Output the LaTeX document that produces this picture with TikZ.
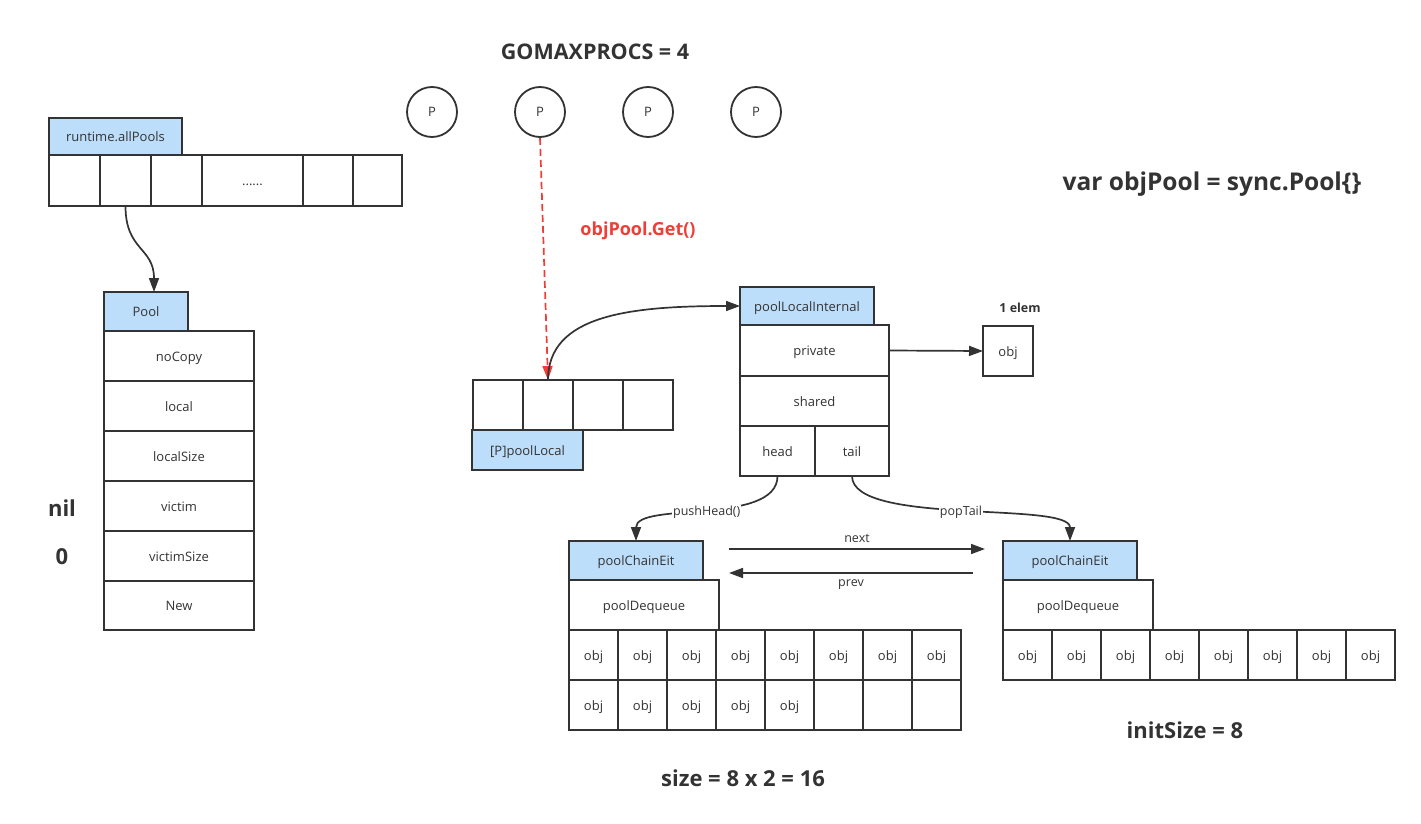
\documentclass[tikz,border=0pt]{standalone}
\usepackage{fontspec}
\setmainfont{Open Sans}
\usepackage{tikz}
\usetikzlibrary{arrows.meta}
\definecolor{ink}{HTML}{333333}
\definecolor{headblue}{RGB}{189,222,250}
\definecolor{getred}{RGB}{240,62,55}

\begin{document}
\begin{tikzpicture}[x=1pt,y=-1pt,
	box/.style={draw=ink, line width=1.8pt, inner sep=0pt, outer sep=0pt, text=ink, text height=12pt, text depth=2pt, font=\fontsize{13}{15}\selectfont},
	headbox/.style={box, fill=headblue, minimum height=38pt},
	fieldbox/.style={box, fill=white, minimum height=50pt},
	objbox/.style={fieldbox, minimum width=49pt},
	pnode/.style={circle, draw=ink, line width=1.8pt, minimum size=50pt, inner sep=0pt, text=ink, text height=12pt, text depth=2pt, font=\fontsize{13}{15}\selectfont},
	bigtext/.style={text=ink, font=\bfseries\fontsize{22}{26}\selectfont},
	smalltext/.style={text=ink, font=\fontsize{12.5}{14}\selectfont},
	link/.style={draw=ink, line width=1.7pt, -{Triangle[length=14pt,width=10pt]}},
	]
	\useasboundingbox (0,0) rectangle (1421,824);
	%Nodes
	\node[bigtext, font=\bfseries\fontsize{21.5}{26}\selectfont] (title) at (595,52) {GOMAXPROCS = 4};
	\node[bigtext, font=\bfseries\fontsize{24.5}{28}\selectfont] (decl) at (1212,184) {var objPool = sync.Pool\{\}};
	\node[pnode]                    (p1)       at (432,112)    {P};
	\node[pnode]                    (p2)       at (540,112)    {P};
	\node[pnode]                    (p3)       at (648,112)    {P};
	\node[pnode]                    (p4)       at (756,112)    {P};

	\node[headbox, minimum width=133pt, minimum height=37pt] (allhd) at (115.5,136.5) {runtime.allPools};
	\node[fieldbox, minimum width=51pt, minimum height=51pt]  (all1)  at (74.5,180.5)   {};
	\node[fieldbox, minimum width=51pt, minimum height=51pt]  (all2)  at (125.5,180.5)  {};
	\node[fieldbox, minimum width=51pt, minimum height=51pt]  (all3)  at (176.5,180.5)  {};
	\node[fieldbox, minimum width=101pt, minimum height=51pt] (all4)  at (252.5,180.5)  {......};
	\node[fieldbox, minimum width=50pt, minimum height=51pt]  (all5)  at (328,180.5)    {};
	\node[fieldbox, minimum width=49pt, minimum height=51pt]  (all6)  at (377.5,180.5)  {};

	\node[headbox, minimum width=84pt, minimum height=39pt] (poolhd) at (146,311.5) {Pool};
	\node[fieldbox, minimum width=150pt] (nocopy)     at (179,356) {noCopy};
	\node[fieldbox, minimum width=150pt] (local)      at (179,406) {local};
	\node[fieldbox, minimum width=150pt] (localsize)  at (179,456) {localSize};
	\node[fieldbox, minimum width=150pt] (victim)     at (179,506) {victim};
	\node[fieldbox, minimum width=150pt] (victimsize) at (179,556) {victimSize};
	\node[fieldbox, minimum width=150pt, minimum height=49pt] (new) at (179,605.5) {New};
	\node[bigtext]                  (nil)      at (62,508)     {nil};
	\node[bigtext]                  (zero)     at (62,557)     {0};

	\node[text=getred, font=\bfseries\fontsize{18}{21}\selectfont] (get) at (638,231) {objPool.Get()};
	\node[fieldbox, minimum width=50pt] (pl1) at (498,405) {};
	\node[fieldbox, minimum width=50pt] (pl2) at (548,405) {};
	\node[fieldbox, minimum width=50pt] (pl3) at (598,405) {};
	\node[fieldbox, minimum width=50pt] (pl4) at (648,405) {};
	\node[headbox, minimum width=111pt, minimum height=40pt] (plhd) at (527.5,450) {[P]poolLocal};

	\node[headbox, minimum width=134pt] (plihd) at (807,306) {poolLocalInternal};
	\node[fieldbox, minimum width=149pt, minimum height=51pt] (private) at (814.5,350.5) {private};
	\node[fieldbox, minimum width=149pt] (shared)  at (814.5,401) {shared};
	\node[fieldbox, minimum width=75pt]  (head)    at (777.5,451) {head};
	\node[fieldbox, minimum width=74pt]  (tail)    at (852,451)   {tail};
	\node[fieldbox, minimum width=50pt]  (single)  at (1008,351)  {obj};
	\node[text=ink, font=\bfseries\fontsize{12.5}{14}\selectfont] (oneelem) at (1020,308) {1 elem};

	\node[headbox, minimum width=134pt, minimum height=39pt] (lefthd) at (636,560.5) {poolChainEit};
	\node[fieldbox, minimum width=150pt] (leftdq) at (644,605) {poolDequeue};
	\node[objbox] (la1) at (593.5,655) {obj};
	\node[objbox] (la2) at (642.5,655) {obj};
	\node[objbox] (la3) at (691.5,655) {obj};
	\node[objbox] (la4) at (740.5,655) {obj};
	\node[objbox] (la5) at (789.5,655) {obj};
	\node[objbox] (la6) at (838.5,655) {obj};
	\node[objbox] (la7) at (887.5,655) {obj};
	\node[objbox] (la8) at (936.5,655) {obj};
	\node[objbox] (lb1) at (593.5,705) {obj};
	\node[objbox] (lb2) at (642.5,705) {obj};
	\node[objbox] (lb3) at (691.5,705) {obj};
	\node[objbox] (lb4) at (740.5,705) {obj};
	\node[objbox] (lb5) at (789.5,705) {obj};
	\node[objbox] (lb6) at (838.5,705) {};
	\node[objbox] (lb7) at (887.5,705) {};
	\node[objbox] (lb8) at (936.5,705) {};
	\node[bigtext]  (size)     at (743,778)   {size = 8 x 2 = 16};

	\node[headbox, minimum width=134pt, minimum height=39pt] (righthd) at (1070,560.5) {poolChainEit};
	\node[fieldbox, minimum width=150pt] (rightdq) at (1078,605) {poolDequeue};
	\node[objbox] (ra1) at (1027.5,655) {obj};
	\node[objbox] (ra2) at (1076.5,655) {obj};
	\node[objbox] (ra3) at (1125.5,655) {obj};
	\node[objbox] (ra4) at (1174.5,655) {obj};
	\node[objbox] (ra5) at (1223.5,655) {obj};
	\node[objbox] (ra6) at (1272.5,655) {obj};
	\node[objbox] (ra7) at (1321.5,655) {obj};
	\node[objbox] (ra8) at (1370.5,655) {obj};
	\node[bigtext]  (initsize) at (1185,730)  {initSize = 8};

	\coordinate (nextA) at (729,549);
	\coordinate (nextB) at (985,549);
	\coordinate (prevA) at (973,573);
	\coordinate (prevB) at (729,573);

	%Lines
	\draw[link] (all2.south) .. controls +(0,45) and +(0,-45) .. ([xshift=8pt]poolhd.north);
	\draw[link, draw=getred, dash pattern=on 7pt off 4pt, -{Triangle[length=14pt,width=10pt,fill=getred]}, color=getred] (p2.south) -- (pl2.north);
	\draw[link] (pl2.north) .. controls +(0,-65) and +(-110,0) .. (plihd.west);
	\draw[link] (private.east) -- (single.west);
	\draw[link] (head.south) .. controls +(0,50) and +(0,-40) .. node[fill=white, inner sep=1pt, smalltext] {pushHead()} (lefthd.north);
	\draw[link] (tail.south) .. controls +(0,50) and +(0,-40) .. node[fill=white, inner sep=1pt, smalltext] {popTail} (righthd.north);
	\draw[link] (nextA) -- node[above=2pt, smalltext] {next} (nextB);
	\draw[link] (prevA) -- node[below=2pt, smalltext] {prev} (prevB);
\end{tikzpicture}
\end{document}
